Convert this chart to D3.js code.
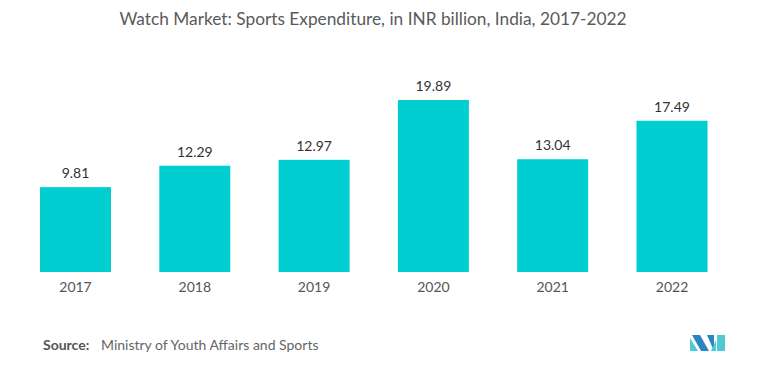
<!DOCTYPE html>
<html>
<head>
<meta charset="utf-8">
<script src="https://cdn.jsdelivr.net/npm/d3@7"></script>
<style>
  body { margin: 0; background: #fff; }
  text { font-family: Lato, "Open Sans", sans-serif; }
</style>
</head>
<body>
<div id="chart"></div>
<script>
// data
const years = ["2017", "2018", "2019", "2020", "2021", "2022"];
const values = [9.81, 12.29, 12.97, 19.89, 13.04, 17.49];

const width = 781, height = 375;

const svg = d3.select("#chart")
  .append("svg")
  .attr("width", width)
  .attr("height", height);

svg.append("rect")
  .attr("width", width)
  .attr("height", height)
  .attr("fill", "#fff");

const x = d3.scaleBand()
  .domain(years)
  .range([40, 707.5])
  .paddingInner(0.405)
  .paddingOuter(0);

const y = d3.scaleLinear()
  .domain([0, 19.89])
  .range([272, 100]);

// title
svg.append("text")
  .attr("x", 373)
  .attr("y", 25)
  .attr("text-anchor", "middle")
  .attr("fill", "#5a5a5a")
  .style("font-size", "17.3px")
  .text("Watch Market: Sports Expenditure, in INR billion, India, 2017-2022");

// bars
svg.selectAll(".bar")
  .data(years)
  .enter()
  .append("rect")
    .attr("class", "bar")
    .attr("x", d => x(d))
    .attr("y", (d, i) => y(values[i]))
    .attr("width", x.bandwidth())
    .attr("height", (d, i) => y(0) - y(values[i]))
    .attr("fill", "#00ced1");

// value labels
svg.selectAll(".val")
  .data(years)
  .enter()
  .append("text")
    .attr("class", "val")
    .attr("x", d => x(d) + x.bandwidth() / 2)
    .attr("y", (d, i) => y(values[i]) - 9)
    .attr("text-anchor", "middle")
    .attr("fill", "#333")
    .style("font-size", "14px")
    .text((d, i) => values[i].toFixed(2));

// x axis labels
const xAxis = svg.append("g")
  .attr("transform", "translate(0,272)")
  .call(d3.axisBottom(x).tickSize(0).tickPadding(10));
xAxis.select(".domain").remove();
xAxis.selectAll("text")
  .attr("fill", "#555")
  .style("font-size", "14px")
  .style("font-family", "Lato, 'Open Sans', sans-serif");

// source
svg.append("text")
  .attr("x", 43)
  .attr("y", 350)
  .attr("fill", "#555")
  .style("font-size", "14px")
  .style("font-weight", "bold")
  .text("Source:");
svg.append("text")
  .attr("x", 101)
  .attr("y", 350)
  .attr("fill", "#666")
  .style("font-size", "14px")
  .text("Ministry of Youth Affairs and Sports");

// logo
const logo = svg.append("g").attr("transform", "translate(690,335)");
logo.append("path").attr("d", "M0,16 L0,3 L8,16 Z").attr("fill", "#4fc9d6");
logo.append("path").attr("d", "M2,0 L10,0 L19,16 L11,16 Z").attr("fill", "#2a86c0");
logo.append("path").attr("d", "M17,0 L24,0 L24,16 Z").attr("fill", "#2a86c0");
logo.append("path").attr("d", "M21,16 L26,5 L26,16 Z").attr("fill", "#4fc9d6");
logo.append("path").attr("d", "M27,0 L35,0 L35,16 L27,16 Z").attr("fill", "#4fc9d6");
</script>
</body>
</html>
